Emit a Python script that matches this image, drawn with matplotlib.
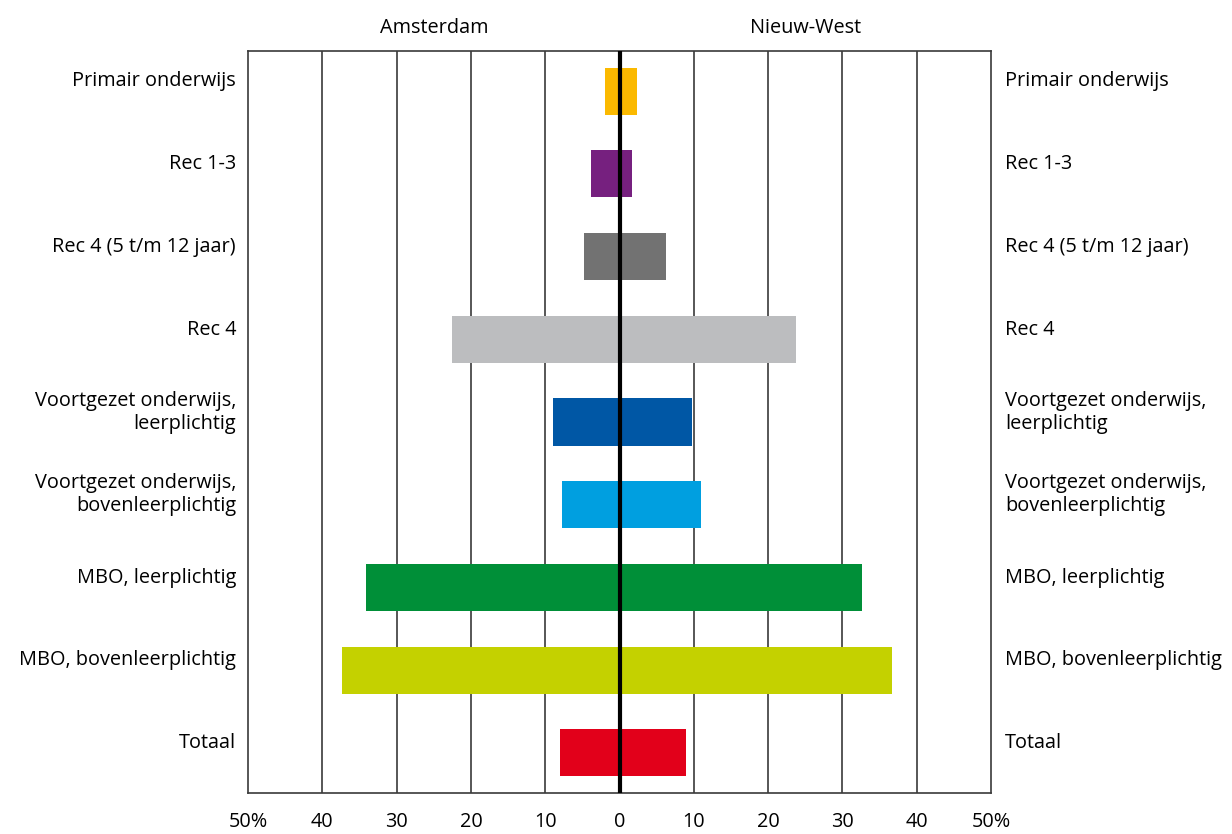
import numpy as np
import matplotlib.pyplot as plt

# -----------------------------
# Data (percentages)
# -----------------------------
categories = [
    "Primair onderwijs",
    "Rec 1-3",
    "Rec 4 (5 t/m 12 jaar)",
    "Rec 4",
    "Voortgezet onderwijs,\nleerplichtig",
    "Voortgezet onderwijs,\nbovenleerplichtig",
    "MBO, leerplichtig",
    "MBO, bovenleerplichtig",
    "Totaal",
]
amsterdam = [2.0, 3.9, 4.8, 22.6, 8.9, 7.8, 34.1, 37.4, 8.0]
nieuw_west = [2.3, 1.7, 6.3, 23.8, 9.8, 11.0, 32.7, 36.7, 9.0]
colors = ["#FBB900", "#76207F", "#727272", "#BCBDBF", "#0057A5",
          "#009FE0", "#008F38", "#C4D100", "#E2001A"]
tick_values = [-50, -40, -30, -20, -10, 0, 10, 20, 30, 40, 50]
tick_labels = ["50%", "40", "30", "20", "10", "0", "10", "20", "30", "40", "50%"]

plt.rcParams["font.family"] = ["Open Sans", "DejaVu Sans"]
FS = 14.3

fig = plt.figure(figsize=(12.32, 8.34), dpi=100)
ax = fig.add_axes([0.2013, 0.0492, 0.6031, 0.8896])

y = np.arange(len(categories))
ax.barh(y, [-v for v in amsterdam], height=0.57, color=colors, zorder=2)
ax.barh(y, nieuw_west, height=0.57, color=colors, zorder=2)

# verticale lijnen
for t in tick_values[1:-1]:
    if t == 0:
        continue
    ax.axvline(t, color="#3a3a3a", linewidth=1.2, zorder=1)
ax.axvline(0, color="black", linewidth=3, zorder=3)

ax.set_xlim(-50, 50)
ax.set_ylim(len(categories) - 0.515, -0.485)
ax.set_yticks([])
ax.set_xticks(tick_values)
ax.set_xticklabels(tick_labels, fontsize=FS)
ax.tick_params(axis="x", length=0, pad=14)
for s in ax.spines.values():
    s.set_color("#3a3a3a")
    s.set_linewidth(1.2)

# labels links en rechts (iets boven het midden van de balk)
for yi, cat in zip(y, categories):
    ax.annotate(cat, xy=(0, yi), xycoords=("axes fraction", "data"),
                xytext=(-8.6, 7), textcoords="offset points",
                ha="right", va="center", ma="right", fontsize=FS,
                linespacing=1.2)
    ax.annotate(cat, xy=(1, yi), xycoords=("axes fraction", "data"),
                xytext=(10, 7), textcoords="offset points",
                ha="left", va="center", ma="left", fontsize=FS,
                linespacing=1.2)

ax.text(-25, 1.031, "Amsterdam", transform=ax.get_xaxis_transform(),
        ha="center", va="center", fontsize=FS)
ax.text(25, 1.031, "Nieuw-West", transform=ax.get_xaxis_transform(),
        ha="center", va="center", fontsize=FS)

fig.savefig("out.png", dpi=100)
